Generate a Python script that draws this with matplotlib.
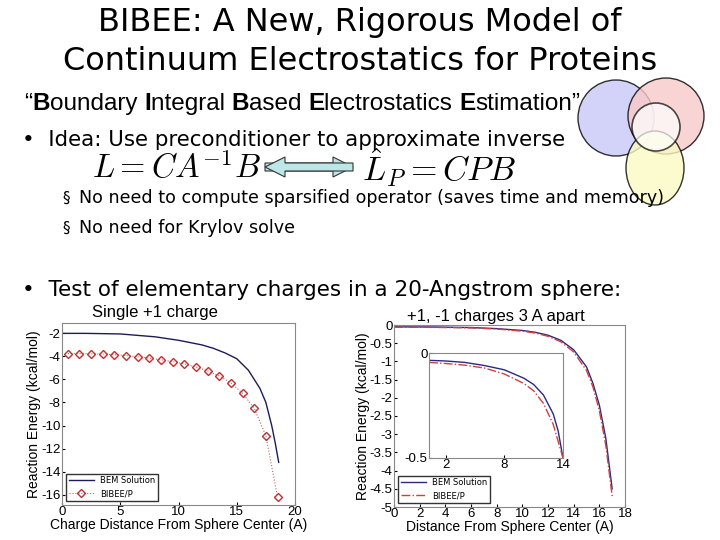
import numpy as np
import matplotlib.pyplot as plt
from matplotlib.patches import Circle, Ellipse, FancyArrow

plt.rcParams['axes.unicode_minus'] = False

# single +1 charge
bem1_x = [0, 2, 5, 8, 10, 12, 13, 14, 15, 16, 17, 17.5, 18, 18.3, 18.6]
bem1_y = [-2.0, -2.0, -2.05, -2.3, -2.6, -3.0, -3.3, -3.7, -4.2, -5.2, -6.8, -8.0, -10.0, -11.5, -13.2]
bib1_x = [0.5, 1.5, 2.5, 3.5, 4.5, 5.5, 6.5, 7.5, 8.5, 9.5, 10.5, 11.5, 12.5, 13.5, 14.5, 15.5, 16.5, 17.5, 18.5]
bib1_y = [-3.75, -3.75, -3.78, -3.8, -3.85, -3.93, -4.03, -4.15, -4.3, -4.45, -4.65, -4.93,
          -5.25, -5.7, -6.3, -7.2, -8.5, -10.9, -16.2]

# +1/-1 pair
bem2_x = [0, 3, 6, 8, 10, 11, 12, 13, 14, 15, 15.5, 16, 16.5, 17]
bem2_y = [-0.05, -0.055, -0.07, -0.1, -0.15, -0.2, -0.28, -0.42, -0.68, -1.15, -1.6, -2.2, -3.1, -4.5]
bib2_y = [-0.06, -0.065, -0.08, -0.11, -0.17, -0.22, -0.31, -0.46, -0.74, -1.25, -1.7, -2.35, -3.3, -4.7]
ins_x = [0.3, 2, 4, 6, 8, 10, 11, 12, 13, 13.5, 14]
ins_bem = [-0.035, -0.038, -0.045, -0.06, -0.08, -0.12, -0.15, -0.2, -0.29, -0.37, -0.5]
ins_bib = [-0.045, -0.05, -0.058, -0.072, -0.1, -0.145, -0.18, -0.24, -0.34, -0.42, -0.5]

W, H = 720, 540
fig = plt.figure(figsize=(7.2, 5.4), dpi=100)
fig.patch.set_facecolor('white')
bg = fig.add_axes([0, 0, 1, 1])
bg.set_xlim(0, W); bg.set_ylim(H, 0); bg.axis('off')

title_font = 'DejaVu Sans'
bg.text(360, 22, 'BIBEE: A New, Rigorous Model of', ha='center', va='center', fontsize=23, family=title_font)
bg.text(360, 62, 'Continuum Electrostatics for Proteins', ha='center', va='center', fontsize=23, family=title_font)

# subtitle with bold initials
parts = [('\u201c', 'normal'), ('B', 'bold'), ('oundary ', 'normal'), ('I', 'bold'), ('ntegral ', 'normal'),
         ('B', 'bold'), ('ased ', 'normal'), ('E', 'bold'), ('lectrostatics ', 'normal'),
         ('E', 'bold'), ('stimation\u201d', 'normal')]
fig.canvas.draw()
r = fig.canvas.get_renderer()
x = 24
for s, w in parts:
    t = bg.text(x, 104, s, ha='left', va='center', fontsize=17.5, family='Liberation Sans', weight=w)
    bb = t.get_window_extent(renderer=r)
    x += bb.width

bg.text(22, 140, '\u2022  Idea: Use preconditioner to approximate inverse', ha='left', va='center',
        fontsize=15.4, family=title_font)
bg.text(92, 168, r'$L = CA^{-1}B$', ha='left', va='center', fontsize=23.5, math_fontfamily='cm')
bg.text(362, 168, r'$\hat{L}_P = CPB$', ha='left', va='center', fontsize=24.5, math_fontfamily='cm')
bg.add_patch(FancyArrow(265, 167, 88, 0, width=8, head_width=20, head_length=20,
                        length_includes_head=True, fc='#bfe6e6', ec='#333333', lw=0.8))
bg.add_patch(FancyArrow(353, 167, -88, 0, width=8, head_width=20, head_length=20,
                        length_includes_head=True, fc='#bfe6e6', ec='#333333', lw=0.8))

for yy, s in [(198, 'No need to compute sparsified operator (saves time and memory)'),
              (228, 'No need for Krylov solve')]:
    bg.text(62, yy, '\u00a7', ha='left', va='center', fontsize=11, family='DejaVu Sans')
    bg.text(79, yy, s, ha='left', va='center', fontsize=12.6, family='DejaVu Sans')

bg.text(22, 290, '\u2022  Test of elementary charges in a 20-Angstrom sphere:', ha='left', va='center',
        fontsize=15.5, family=title_font)
bg.text(92, 313, 'Single +1 charge', ha='left', va='center', fontsize=12, family='Liberation Sans')
bg.text(407, 317, '+1, -1 charges 3 A apart', ha='left', va='center', fontsize=12, family='Liberation Sans')

# venn logo
bg.add_patch(Circle((616, 118), 38, fc='#c8c8f8', ec='black', lw=1, alpha=0.8))
bg.add_patch(Circle((666, 116), 38, fc='#f8caca', ec='black', lw=1, alpha=0.8))
bg.add_patch(Ellipse((655, 168), 58, 74, fc='#fcf9c4', ec='black', lw=1, alpha=0.8))
bg.add_patch(Circle((656, 127), 24, fc='white', ec='black', lw=1.2, alpha=0.7))


def px_axes(l, t, r_, b):
    return fig.add_axes([l / W, 1 - b / H, (r_ - l) / W, (b - t) / H])


tick_kw = dict(labelsize=9.5, length=2, direction='in', pad=1, labelfontfamily='Liberation Sans')
lab_kw = dict(fontsize=10, family='Liberation Sans')
ax1 = px_axes(62, 323, 295, 505)
ax1.plot(bem1_x, bem1_y, color='#1c1c5a', lw=1, label='BEM Solution')
ax1.plot(bib1_x, bib1_y, ':', color='#d06060', lw=0.8, marker='D', ms=4, mfc='none', mec='#c03030',
         label='BIBEE/P')
ax1.set_xlim(0, 20); ax1.set_ylim(-16.9, -1.1)
ax1.set_yticks(range(-16, -1, 2)); ax1.set_xticks([0, 5, 10, 15, 20])
ax1.tick_params(**tick_kw)
ax1.set_ylabel('Reaction Energy (kcal/mol)', labelpad=0, **lab_kw)
ax1.set_xlabel('Charge Distance From Sphere Center (A)', labelpad=0, **lab_kw)
ax1.legend(loc='lower left', fontsize=6, frameon=True, fancybox=False, edgecolor='black',
           borderpad=0.3, handlelength=3)

ax2 = px_axes(394, 325, 625, 507)
ax2.plot(bem2_x, bem2_y, color='#2a2a80', lw=1, label='BEM Solution')
ax2.plot(bem2_x, bib2_y, '-.', color='#d04040', lw=1, label='BIBEE/P')
ax2.set_xlim(0, 18); ax2.set_ylim(-5, 0)
ax2.set_xticks(range(0, 19, 2)); ax2.set_yticks(np.arange(-5, 0.1, 0.5))
ax2.set_yticklabels(['-5', '-4.5', '-4', '-3.5', '-3', '-2.5', '-2', '-1.5', '-1', '-0.5', '0'])
ax2.tick_params(**tick_kw)
ax2.set_ylabel('Reaction Energy (kcal/mol)', labelpad=0, **lab_kw)
ax2.set_xlabel('Distance From Sphere Center (A)', labelpad=0, **lab_kw)
ax2.legend(loc='lower left', fontsize=6, frameon=True, fancybox=False, edgecolor='black',
           borderpad=0.3, handlelength=3)

ax3 = px_axes(429, 353, 563, 458)
ax3.plot(ins_x, ins_bem, color='#2a2a80', lw=1)
ax3.plot(ins_x, ins_bib, '-.', color='#d04040', lw=1)
ax3.set_xlim(0.3, 14); ax3.set_ylim(-0.5, 0)
ax3.set_xticks([2, 8, 14]); ax3.set_yticks([-0.5, 0]); ax3.set_yticklabels(['-0.5', '0'])
ax3.tick_params(**tick_kw)

for a in (ax1, ax2, ax3):
    for s in a.spines.values():
        s.set_color('#888888')

fig.savefig('out.png', dpi=100)
